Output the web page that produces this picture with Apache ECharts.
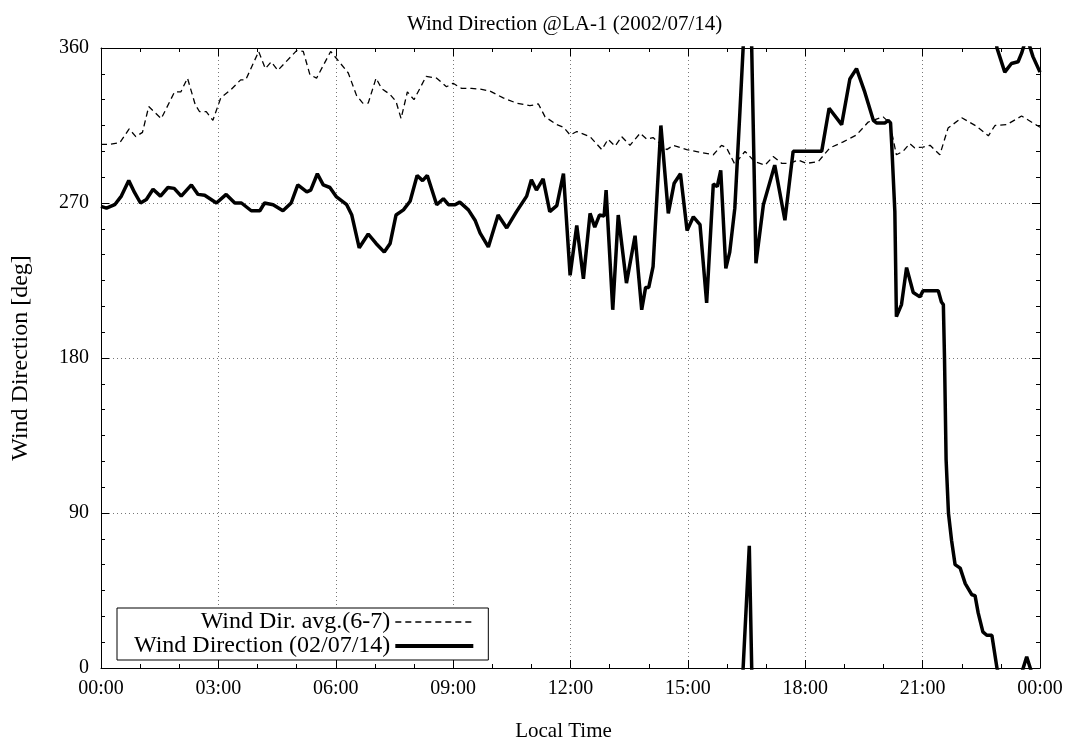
<!DOCTYPE html>
<html>
<head>
<meta charset="utf-8">
<script src="https://cdn.jsdelivr.net/npm/echarts@6/dist/echarts.min.js"></script>
<style>html,body{margin:0;padding:0;background:#fff}#c{width:1075px;height:745px}</style>
</head>
<body>
<div id="c"></div>
<script>
// ---- data (hours of day, degrees) ----
const titleText = 'Wind Direction @LA-1 (2002/07/14)';
const avgName = 'Wind Dir. avg.(6-7)';
const obsName = 'Wind Direction (02/07/14)';
const xTicks = ['00:00','03:00','06:00','09:00','12:00','15:00','18:00','21:00','00:00'];
const yTicks = [0, 90, 180, 270, 360];

const avgHours = [0.00,0.22,0.48,0.72,0.89,1.06,1.22,1.54,1.88,2.04,2.21,2.41,2.52,2.69,2.86,3.06,3.33,3.57,3.70,4.03,4.20,4.35,4.52,5.00,5.17,5.34,5.51,5.87,6.07,6.32,6.53,6.69,6.83,7.03,7.17,7.39,7.54,7.67,7.83,8.00,8.31,8.58,8.83,9.00,9.22,9.47,9.73,9.94,10.28,10.62,10.96,11.18,11.35,11.65,11.82,11.99,12.16,12.50,12.80,12.96,13.14,13.31,13.52,13.78,13.95,14.11,14.46,14.63,14.97,15.31,15.65,15.86,15.99,16.20,16.46,16.71,16.97,17.18,17.40,17.61,17.82,18.03,18.33,18.63,18.97,19.31,19.61,19.99,20.16,20.33,20.50,20.67,20.80,21.01,21.19,21.44,21.65,22.00,22.38,22.68,22.85,23.15,23.53,24.00];
const avgDeg = [304,304,305,313,308.5,311,326,319,334.5,334.5,342.5,327,323,323,318,331,336,341.5,341.5,358,348,352,347,358.5,358,344.5,342.5,358,352.5,345.5,332.5,328,328,342.5,336.5,333,329,319,334.5,330,343.5,342.5,337.5,339.5,336.5,336.5,336,335,331,328,326.5,327.5,320,315.5,314,309.5,311.5,308.5,301,307,303,308.5,303.5,310.5,307,308,301,303.5,301,299.5,298,303.5,302,292.5,300,294,292,297,293,293,295,293,294,302,305.5,309.5,317,320,316.5,298,300,304.5,302,302.5,303.5,298,313.5,319.5,314.5,309,315,315.5,320.5,314];

// observed direction, unwrapped (values may pass beyond 0 / 360)
const obsHours = [0.00,0.14,0.35,0.52,0.71,0.86,1.01,1.16,1.33,1.52,1.71,1.87,2.05,2.31,2.48,2.65,2.95,3.20,3.42,3.59,3.84,4.06,4.18,4.40,4.65,4.86,5.03,5.26,5.36,5.53,5.68,5.85,6.02,6.28,6.41,6.60,6.83,7.03,7.24,7.39,7.54,7.73,7.90,8.08,8.22,8.34,8.58,8.75,8.88,9.05,9.17,9.39,9.56,9.69,9.90,10.15,10.37,10.62,10.88,11.00,11.13,11.30,11.47,11.65,11.82,11.99,12.16,12.33,12.50,12.62,12.74,12.86,12.91,13.08,13.22,13.43,13.65,13.82,13.92,14.00,14.11,14.31,14.50,14.65,14.81,14.98,15.14,15.31,15.48,15.65,15.75,15.84,15.97,16.07,16.20,16.33,16.57,16.74,16.93,17.22,17.48,17.69,17.86,18.42,18.61,18.93,19.14,19.31,19.52,19.74,19.82,20.04,20.12,20.18,20.21,20.29,20.33,20.46,20.59,20.76,20.93,21.01,21.40,21.48,21.53,21.56,21.60,21.66,21.74,21.83,21.96,22.09,22.26,22.34,22.42,22.54,22.64,22.77,22.90,23.10,23.27,23.44,23.53,23.66,23.82,24.00];
const obsDeg = [268,267,269,274,283,276,270,272,278,274,279,278.5,274,280.5,275,274.5,270,275,270,270,265.5,265.5,270,269,265.5,270,280.5,276.5,277.5,287,280.5,279,273.5,269,263,244,252,246.5,241.5,246.5,263,266,271,286,283,286,269,272.5,269,269,270.5,266,260,252.5,244.5,263,255.5,265,274,283.5,277.5,284,265,268.5,287,228,257,226,264,256,263,262.5,277.5,208,263,223.5,251,208,221,221,233,315,264,281.5,287,254,262,257.5,212,281,279.5,289,232,241.5,267,323,431,235,269,292,260,300,300,300,325,315.5,342,348,334.5,318,316.5,316.5,318,316.5,304,265,204,211,232.5,218,215.5,219,219,212.5,211,179,121,90,74,60,58,49,42.5,42,32,21,19,19,0,-14,-9,-8,-3,6.5,-5,-14];

// ---- build ----
const pairs = (hs, vs, off) => hs.map((h, i) => [h, vs[i] + off]);
const fontFam = '"Liberation Serif", "DejaVu Serif", serif';
const black = '#000';

const chart = echarts.init(document.getElementById('c'), null, {renderer: 'canvas'});
const hourLabel = v => xTicks[Math.round(v / 3)] || '';

function mkTick() { return {show: true, inside: true, length: 8, lineStyle: {color: black, width: 1}}; }
function mkMinor() { return {show: true, splitNumber: 3, length: 4, lineStyle: {color: black, width: 1}}; }
const gridLine = {show: true, lineStyle: {color: '#777', width: 1, type: [1, 3]}};
const axisLn = {show: true, onZero: false, lineStyle: {color: black, width: 1}};

const obsSeries = (name, off) => ({
  name, type: 'line', data: pairs(obsHours, obsDeg, off),
  showSymbol: false, symbol: 'none', clip: true, z: 3,
  lineStyle: {color: black, width: 3.5, type: 'solid'},
  itemStyle: {color: black}, emphasis: {disabled: true}, silent: true
});

chart.setOption({
  animation: false,
  backgroundColor: '#fff',
  title: {
    text: titleText, left: 402, top: 9,
    textStyle: {fontFamily: fontFam, fontWeight: 'normal', fontSize: 21, color: black}
  },
  grid: {left: 101, right: 35, top: 48, bottom: 77, containLabel: false, outerBoundsMode: 'none'},
  legend: {
    data: [
      {name: avgName, lineStyle: {width: 1.3, type: [6, 4], color: black}},
      {name: obsName, lineStyle: {width: 4, type: 'solid', color: black}}
    ],
    orient: 'vertical', align: 'right',
    left: 117, top: 608,
    itemWidth: 78, itemHeight: 14, itemGap: 0,
    padding: [2, 13, 2, 17],
    backgroundColor: '#fff', borderColor: black, borderWidth: 1, borderRadius: 0,
    itemStyle: {color: 'rgba(0,0,0,0)', borderWidth: 0, opacity: 0},
    textStyle: {fontFamily: fontFam, fontSize: 24, color: black},
    selectedMode: false
  },
  xAxis: [
    {
      type: 'value', min: 0, max: 24, interval: 3, position: 'bottom',
      axisLine: axisLn, axisTick: mkTick(), minorTick: mkMinor(),
      name: 'Local Time', nameLocation: 'middle', nameGap: 53,
      nameTextStyle: {fontFamily: fontFam, fontSize: 21, color: black, padding: [0, 14, 0, 0]},
      axisLabel: {show: true, margin: 11, formatter: hourLabel, fontFamily: fontFam, fontSize: 20, color: black},
      splitLine: gridLine
    },
    {
      type: 'value', min: 0, max: 24, interval: 3, position: 'top',
      axisLine: axisLn, axisTick: mkTick(), minorTick: mkMinor(),
      axisLabel: {show: false}, splitLine: {show: false}
    }
  ],
  yAxis: [
    {
      type: 'value', min: 0, max: 360, interval: 90, position: 'left',
      axisLine: axisLn, axisTick: mkTick(), minorTick: Object.assign(mkMinor(), {splitNumber: 6}),
      name: 'Wind Direction [deg]', nameLocation: 'middle', nameGap: 68,
      nameTextStyle: {fontFamily: fontFam, fontSize: 24, color: black},
      axisLabel: {show: true, margin: 12, fontFamily: fontFam, fontSize: 20, color: black},
      splitLine: gridLine
    },
    {
      type: 'value', min: 0, max: 360, interval: 90, position: 'right',
      axisLine: axisLn, axisTick: mkTick(), minorTick: Object.assign(mkMinor(), {splitNumber: 6}),
      axisLabel: {show: false}, splitLine: {show: false}
    }
  ],
  series: [
    {
      name: avgName, type: 'line', data: pairs(avgHours, avgDeg, 0),
      showSymbol: false, symbol: 'none', clip: true, z: 2,
      lineStyle: {color: black, width: 1.3, type: [6, 4]},
      itemStyle: {color: black}, emphasis: {disabled: true}, silent: true
    },
    obsSeries(obsName, 0),
    obsSeries('wrapLow', -360),
    obsSeries('wrapHigh', 360)
  ]
});
</script>
</body>
</html>
